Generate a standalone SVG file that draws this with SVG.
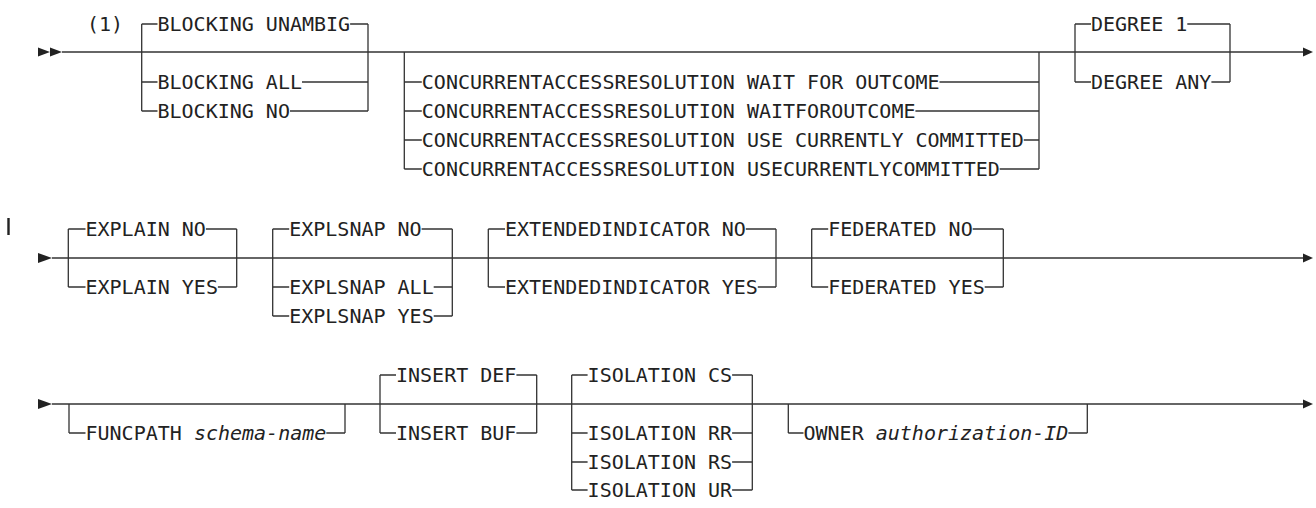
<svg xmlns="http://www.w3.org/2000/svg" width="1316" height="508" viewBox="0 0 1316 508">
<style>
.t{font-family:"DejaVu Sans Mono",monospace;font-size:20px;fill:#222}
.i{font-style:italic}
.ln{stroke:#333;stroke-width:1.3;fill:none}
.ar{fill:#222}
</style>
<rect width="1316" height="508" fill="#fff"/>
<g id="connectors" class="ln">
<!-- row 1 -->
<path d="M62,52 H1303"/>
<path d="M141.7,24 V111 M368,24 V111 M141.7,24 H157.5 M350.1,24 H368 M141.7,82 H157.5 M302,82 H368 M141.7,111 H157.5 M290,111 H368"/>
<path d="M404.3,52 V169 M1039,52 V169 M404.3,82 H421.8 M939.5,82 H1039 M404.3,111 H421.8 M915.4,111 H1039 M404.3,140 H421.8 M1023.8,140 H1039 M404.3,169 H421.8 M999.7,169 H1039"/>
<path d="M1075,24 V82 M1230,24 V82 M1075,24 H1091 M1187.3,24 H1230 M1075,82 H1091 M1211.4,82 H1230"/>
<!-- row 2 -->
<path d="M52,258 H1303"/>
<path d="M68.3,229 V287 M236.7,229 V287 M68.3,229 H85.5 M205.9,229 H236.7 M68.3,287 H85.5 M217.9,287 H236.7"/>
<path d="M272.7,229 V316 M452.3,229 V316 M272.7,229 H289.2 M421.6,229 H452.3 M272.7,287 H289.2 M433.7,287 H452.3 M272.7,316 H289.2 M433.7,316 H452.3"/>
<path d="M488.3,229 V287 M776,229 V287 M488.3,229 H505 M745.8,229 H776 M488.3,287 H505 M757.8,287 H776"/>
<path d="M811.7,229 V287 M1003.3,229 V287 M811.7,229 H828.2 M972.7,229 H1003.3 M811.7,287 H828.2 M984.7,287 H1003.3"/>
<!-- row 3 -->
<path d="M52,404 H1303"/>
<path d="M69,404 V433 M345,404 V433 M69,433 H85.5 M326.3,433 H345"/>
<path d="M380,375 V433 M536.7,375 V433 M380,375 H396 M516.4,375 H536.7 M380,433 H396 M516.4,433 H536.7"/>
<path d="M571.7,375 V490 M752.3,375 V490 M571.7,375 H587.6 M732.1,375 H752.3 M571.7,433 H587.6 M732.1,433 H752.3 M571.7,462 H587.6 M732.1,462 H752.3 M571.7,490 H587.6 M732.1,490 H752.3"/>
<path d="M788.3,404 V433 M1087.3,404 V433 M788.3,433 H803.5 M1068.4,433 H1087.3"/>
</g>
<g id="arrows" class="ar">
<polygon points="38,47.5 50,52 38,56.5"/>
<polygon points="50,47.5 62,52 50,56.5"/>
<polygon points="1303,47.5 1313,52 1303,56.5"/>
<polygon points="38,253 52,258 38,263"/>
<polygon points="1303,253.5 1313,258 1303,262.5"/>
<polygon points="38,399 52,404 38,409"/>
<polygon points="1303,399.5 1313,404 1303,408.5"/>
</g>
<g id="changebar"><rect x="7.3" y="218" width="2.4" height="17" fill="#222"/></g>
<g id="note1"><text class="t" x="87" y="31.3">(1)</text></g>
<g id="blocking-unambig"><text class="t" x="157.5" y="31.3">BLOCKING UNAMBIG</text></g>
<g id="blocking-all"><text class="t" x="157.5" y="89.3">BLOCKING ALL</text></g>
<g id="blocking-no"><text class="t" x="157.5" y="118.3">BLOCKING NO</text></g>
<g id="car-wait-for-outcome"><text class="t" x="421.8" y="89.3">CONCURRENTACCESSRESOLUTION WAIT FOR OUTCOME</text></g>
<g id="car-waitforoutcome"><text class="t" x="421.8" y="118.3">CONCURRENTACCESSRESOLUTION WAITFOROUTCOME</text></g>
<g id="car-use-currently-committed"><text class="t" x="421.8" y="147.3">CONCURRENTACCESSRESOLUTION USE CURRENTLY COMMITTED</text></g>
<g id="car-usecurrentlycommitted"><text class="t" x="421.8" y="176.3">CONCURRENTACCESSRESOLUTION USECURRENTLYCOMMITTED</text></g>
<g id="degree-1"><text class="t" x="1091" y="31.3">DEGREE 1</text></g>
<g id="degree-any"><text class="t" x="1091" y="89.3">DEGREE ANY</text></g>
<g id="explain-no"><text class="t" x="85.5" y="236.3">EXPLAIN NO</text></g>
<g id="explain-yes"><text class="t" x="85.5" y="294.3">EXPLAIN YES</text></g>
<g id="explsnap-no"><text class="t" x="289.2" y="236.3">EXPLSNAP NO</text></g>
<g id="explsnap-all"><text class="t" x="289.2" y="294.3">EXPLSNAP ALL</text></g>
<g id="explsnap-yes"><text class="t" x="289.2" y="323.3">EXPLSNAP YES</text></g>
<g id="extendedindicator-no"><text class="t" x="505" y="236.3">EXTENDEDINDICATOR NO</text></g>
<g id="extendedindicator-yes"><text class="t" x="505" y="294.3">EXTENDEDINDICATOR YES</text></g>
<g id="federated-no"><text class="t" x="828.2" y="236.3">FEDERATED NO</text></g>
<g id="federated-yes"><text class="t" x="828.2" y="294.3">FEDERATED YES</text></g>
<g id="funcpath"><text class="t" x="85.5" y="440.3">FUNCPATH <tspan class="i">schema-name</tspan></text></g>
<g id="insert-def"><text class="t" x="396" y="382.3">INSERT DEF</text></g>
<g id="insert-buf"><text class="t" x="396" y="440.3">INSERT BUF</text></g>
<g id="isolation-cs"><text class="t" x="587.6" y="382.3">ISOLATION CS</text></g>
<g id="isolation-rr"><text class="t" x="587.6" y="440.3">ISOLATION RR</text></g>
<g id="isolation-rs"><text class="t" x="587.6" y="469.3">ISOLATION RS</text></g>
<g id="isolation-ur"><text class="t" x="587.6" y="497.3">ISOLATION UR</text></g>
<g id="owner"><text class="t" x="803.5" y="440.3">OWNER <tspan class="i">authorization-ID</tspan></text></g>
</svg>
